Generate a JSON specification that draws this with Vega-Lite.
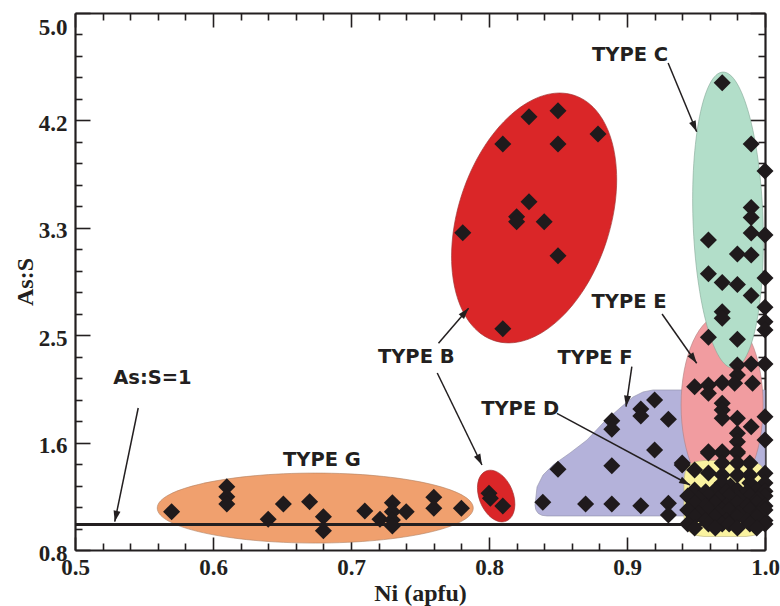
{
  "$schema": "https://vega.github.io/schema/vega-lite/v6.json",
  "width": 690,
  "height": 537,
  "autosize": {"type": "none"},
  "padding": {"left": 75, "top": 13, "right": 15, "bottom": 56},
  "background": "white",
  "config": {
    "view": {"stroke": null},
    "axis": {
      "labelFont": "Liberation Serif", "labelFontWeight": "bold", "labelFontSize": 23, "labelColor": "#231f20",
      "titleFont": "Liberation Serif", "titleFontWeight": "bold", "titleFontSize": 24, "titleColor": "#231f20",
      "tickColor": "#231f20", "domainColor": "#231f20", "grid": false, "tickWidth": 1.6, "domainWidth": 2.2, "zindex": 1
    }
  },
  "datasets": {
    "pts": [
      {"ni":0.570,"ass":1.100},{"ni":0.610,"ass":1.295},{"ni":0.610,"ass":1.217},{"ni":0.610,"ass":1.160},
      {"ni":0.640,"ass":1.040},{"ni":0.651,"ass":1.160},{"ni":0.670,"ass":1.178},{"ni":0.680,"ass":1.060},
      {"ni":0.680,"ass":0.951},{"ni":0.710,"ass":1.105},{"ni":0.721,"ass":1.040},{"ni":0.730,"ass":1.170},
      {"ni":0.730,"ass":1.100},{"ni":0.730,"ass":1.035},{"ni":0.730,"ass":0.988},{"ni":0.740,"ass":1.100},
      {"ni":0.760,"ass":1.212},{"ni":0.760,"ass":1.126},{"ni":0.780,"ass":1.126},
      {"ni":0.800,"ass":1.243},{"ni":0.801,"ass":1.204},{"ni":0.810,"ass":1.144},
      {"ni":0.850,"ass":4.236},{"ni":0.829,"ass":4.189},{"ni":0.879,"ass":4.054},{"ni":0.810,"ass":3.975},
      {"ni":0.850,"ass":3.975},{"ni":0.829,"ass":3.524},{"ni":0.820,"ass":3.407},{"ni":0.820,"ass":3.368},
      {"ni":0.840,"ass":3.368},{"ni":0.781,"ass":3.282},{"ni":0.850,"ass":3.102},{"ni":0.810,"ass":2.531},
      {"ni":0.920,"ass":1.973},{"ni":0.910,"ass":1.903},{"ni":0.910,"ass":1.848},{"ni":0.930,"ass":1.822},
      {"ni":0.889,"ass":1.811},{"ni":0.889,"ass":1.744},{"ni":0.920,"ass":1.582},{"ni":0.889,"ass":1.459},
      {"ni":0.850,"ass":1.431},{"ni":0.940,"ass":1.465},{"ni":0.839,"ass":1.173},{"ni":0.870,"ass":1.160},
      {"ni":0.889,"ass":1.160},{"ni":0.910,"ass":1.146},{"ni":0.930,"ass":1.165},{"ni":0.930,"ass":1.074},
      {"ni":0.969,"ass":4.455},{"ni":0.990,"ass":3.975},{"ni":1.000,"ass":3.764},{"ni":0.990,"ass":3.479},
      {"ni":0.990,"ass":3.400},{"ni":0.990,"ass":3.279},{"ni":1.000,"ass":3.264},{"ni":0.959,"ass":3.225},
      {"ni":0.980,"ass":3.115},{"ni":0.990,"ass":3.107},{"ni":0.959,"ass":2.960},{"ni":0.969,"ass":2.892},
      {"ni":0.980,"ass":2.877},{"ni":1.000,"ass":2.927},{"ni":0.990,"ass":2.790},{"ni":1.000,"ass":2.698},
      {"ni":0.969,"ass":2.664},{"ni":0.969,"ass":2.612},{"ni":1.000,"ass":2.586},{"ni":1.000,"ass":2.521},
      {"ni":0.959,"ass":2.464},{"ni":0.980,"ass":2.448},
      {"ni":0.980,"ass":2.247},{"ni":0.990,"ass":2.255},{"ni":1.000,"ass":2.255},{"ni":0.980,"ass":2.169},
      {"ni":0.991,"ass":2.104},{"ni":0.949,"ass":2.077},{"ni":0.959,"ass":2.090},{"ni":0.969,"ass":2.108},
      {"ni":0.978,"ass":2.104},{"ni":0.959,"ass":2.026},{"ni":0.969,"ass":1.947},{"ni":0.969,"ass":1.895},
      {"ni":0.969,"ass":1.830},{"ni":0.980,"ass":1.830},{"ni":0.990,"ass":1.764},{"ni":1.000,"ass":1.843},
      {"ni":0.980,"ass":1.713},{"ni":0.980,"ass":1.647},{"ni":1.000,"ass":1.660},{"ni":0.959,"ass":1.569},
      {"ni":0.969,"ass":1.569},{"ni":0.980,"ass":1.569},
      {"ni":0.959,"ass":1.559},{"ni":0.969,"ass":1.559},{"ni":0.980,"ass":1.559},
      {"ni":0.940,"ass":1.480},{"ni":0.969,"ass":1.480},{"ni":0.980,"ass":1.480},{"ni":0.989,"ass":1.480},
      {"ni":0.949,"ass":1.426},{"ni":0.959,"ass":1.402},{"ni":0.969,"ass":1.387},{"ni":0.980,"ass":1.387},
      {"ni":0.989,"ass":1.387},{"ni":1.000,"ass":1.400},
      {"ni":0.969,"ass":1.324},{"ni":0.989,"ass":1.324},{"ni":1.000,"ass":1.324},{"ni":0.975,"ass":1.300},
      {"ni":0.949,"ass":1.269},{"ni":0.964,"ass":1.269},{"ni":0.980,"ass":1.269},{"ni":0.994,"ass":1.269},
      {"ni":0.957,"ass":1.255},{"ni":0.972,"ass":1.255},{"ni":0.987,"ass":1.255},{"ni":1.000,"ass":1.260},
      {"ni":0.944,"ass":1.222},{"ni":0.959,"ass":1.222},{"ni":0.974,"ass":1.222},{"ni":0.989,"ass":1.222},{"ni":1.000,"ass":1.222},
      {"ni":0.952,"ass":1.200},{"ni":0.966,"ass":1.200},{"ni":0.981,"ass":1.200},{"ni":0.995,"ass":1.200},
      {"ni":0.949,"ass":1.168},{"ni":0.964,"ass":1.168},{"ni":0.980,"ass":1.168},{"ni":0.994,"ass":1.168},
      {"ni":0.957,"ass":1.145},{"ni":0.972,"ass":1.145},{"ni":0.987,"ass":1.145},{"ni":1.000,"ass":1.145},
      {"ni":0.944,"ass":1.113},{"ni":0.959,"ass":1.113},{"ni":0.969,"ass":1.113},{"ni":0.974,"ass":1.113},{"ni":0.989,"ass":1.113},{"ni":1.000,"ass":1.113},
      {"ni":0.952,"ass":1.085},{"ni":0.966,"ass":1.085},{"ni":0.981,"ass":1.085},{"ni":0.995,"ass":1.085},
      {"ni":0.949,"ass":1.058},{"ni":0.964,"ass":1.058},{"ni":0.980,"ass":1.058},{"ni":0.994,"ass":1.058},
      {"ni":0.957,"ass":1.030},{"ni":0.972,"ass":1.030},{"ni":0.987,"ass":1.030},{"ni":1.000,"ass":1.030},
      {"ni":0.944,"ass":1.003},{"ni":0.959,"ass":1.003},{"ni":0.969,"ass":1.003},{"ni":0.974,"ass":1.003},{"ni":0.989,"ass":1.003},{"ni":1.000,"ass":1.003},
      {"ni":0.949,"ass":0.972},{"ni":0.964,"ass":0.972},{"ni":0.980,"ass":0.972},{"ni":0.994,"ass":0.972}
    ],
    "shapes": [
      {"type":"F","ni":0.9167,"ass":1.559},
      {"type":"E","ni":0.9689,"ass":1.934},
      {"type":"C","ni":0.9732,"ass":3.381},
      {"type":"D","ni":0.9710,"ass":1.203},
      {"type":"G","ni":0.6741,"ass":1.128},
      {"type":"Bs","ni":0.8052,"ass":1.222},
      {"type":"Bb","ni":0.8327,"ass":3.397}
    ],
    "labels": [
      {"text":"TYPE C","ni":0.9022,"ass":4.674},
      {"text":"TYPE B","ni":0.7473,"ass":2.309},
      {"text":"TYPE E","ni":0.9015,"ass":2.740},
      {"text":"TYPE F","ni":0.8769,"ass":2.302},
      {"text":"TYPE D","ni":0.8226,"ass":1.903},
      {"text":"TYPE G","ni":0.6789,"ass":1.504},
      {"text":"As:S=1","ni":0.5561,"ass":2.145}
    ],
    "arrows": [
      {"id":"S","ni":0.5458,"ass":1.9106,"ni2":0.5288,"ass2":1.0213},
      {"id":"Bs","ni":0.7625,"ass":2.1843,"ni2":0.7949,"ass2":1.4648},
      {"id":"Bb","ni":0.7634,"ass":2.4166,"ni2":0.7852,"ass2":2.6904},
      {"id":"C","ni":0.9298,"ass":4.6089,"ni2":0.9505,"ass2":4.0716},
      {"id":"E","ni":0.9254,"ass":2.6458,"ni2":0.9505,"ass2":2.2602},
      {"id":"F","ni":0.9035,"ass":2.2336,"ni2":0.8993,"ass2":1.9208},
      {"id":"D","ni":0.8492,"ass":1.8691,"ni2":0.9457,"ass2":1.3084}
    ]
  },
  "resolve": {"axis": {"x": "independent", "y": "independent"}},
  "layer": [
    {
      "data": {"name": "shapes"},
      "transform": [{"filter": "datum.type === 'F'"}],
      "mark": {"type": "point", "filled": true, "size": 4, "opacity": 1, "fill": "#B4B2DA", "stroke": "#8f8fa8", "strokeWidth": 0.6,
        "shape": "M -115 52 L -113 34 L -107 22 L -97 12 L -80 0 L -63 -13 L -47 -30 L -30 -45 L -17 -56 L -7 -61 L 3 -63 L 115 -63 L 115 63 L -103 63 Q -115 63 -115 52 Z"},
      "encoding": {
        "x": {"field": "ni", "type": "quantitative", "scale": {"domain": [0.5, 1.0], "nice": false, "zero": false},
          "axis": {"orient": "bottom", "values": [0.5, 0.6, 0.7, 0.8, 0.9, 1.0], "format": ".1f", "tickSize": -13, "labelPadding": 19, "labelFlush": false, "labelOverlap": false,
            "title": "Ni (apfu)", "titleY": 43, "titleBaseline": "middle"}},
        "y": {"field": "ass", "type": "quantitative", "scale": {"domain": [0.8, 5.0], "nice": false, "zero": false},
          "axis": {"orient": "left", "values": [0.8, 1.64, 2.48, 3.32, 4.16, 5.0], "labelExpr": "format(datum.value, '.1f')", "tickSize": -15, "labelPadding": 23, "labelFlush": false, "labelOverlap": false,
            "labelOffset": 3, "labelBaseline": {"condition": {"test": "datum.value > 4.9", "value": "top"}, "value": "middle"},
            "title": "As:S", "titleX": -50, "titleBaseline": "middle"}}
      }
    },
    {
      "data": {"name": "shapes"},
      "transform": [{"filter": "datum.type === 'E'"}],
      "mark": {"type": "point", "filled": true, "size": 4, "opacity": 1, "fill": "#F19CA0", "stroke": "#b08080", "strokeWidth": 0.6,
        "shape": "M 0 -90 A 41 90 0 1 0 0 90 A 41 90 0 1 0 0 -90 Z"},
      "encoding": {
        "x": {"field": "ni", "type": "quantitative", "scale": {"domain": [0.5, 1.0], "nice": false, "zero": false},
          "axis": {"orient": "bottom", "values": [0.52,0.54,0.56,0.58,0.62,0.64,0.66,0.68,0.72,0.74,0.76,0.78,0.82,0.84,0.86,0.88,0.92,0.94,0.96,0.98], "tickSize": -7, "labels": false, "domain": false, "title": null}},
        "y": {"field": "ass", "type": "quantitative", "scale": {"domain": [0.8, 5.0], "nice": false, "zero": false},
          "axis": {"orient": "left", "values": [0.968,1.136,1.304,1.472,1.808,1.976,2.144,2.312,2.648,2.816,2.984,3.152,3.488,3.656,3.824,3.992,4.328,4.496,4.664,4.832], "tickSize": -7, "labels": false, "domain": false, "title": null}}
      }
    },
    {
      "data": {"name": "shapes"},
      "transform": [{"filter": "datum.type === 'C'"}],
      "mark": {"type": "point", "filled": true, "size": 4, "opacity": 1, "fill": "#B2DEC9", "stroke": "#86a898", "strokeWidth": 0.6, "angle": 358,
        "shape": "M 0 -148 A 35 148 0 1 0 0 148 A 35 148 0 1 0 0 -148 Z"},
      "encoding": {
        "x": {"field": "ni", "type": "quantitative", "scale": {"domain": [0.5, 1.0], "nice": false, "zero": false},
          "axis": {"orient": "top", "values": [0.5, 0.6, 0.7, 0.8, 0.9, 1.0], "tickSize": -14, "labels": false, "title": null}},
        "y": {"field": "ass", "type": "quantitative", "scale": {"domain": [0.8, 5.0], "nice": false, "zero": false},
          "axis": {"orient": "right", "values": [0.8, 1.64, 2.48, 3.32, 4.16, 5.0], "tickSize": -15, "labels": false, "title": null}}
      }
    },
    {
      "data": {"name": "shapes"},
      "transform": [{"filter": "datum.type === 'D'"}],
      "mark": {"type": "point", "filled": true, "size": 4, "opacity": 1, "fill": "#FAF3A0", "stroke": "#b8b080", "strokeWidth": 0.6,
        "shape": "M -41 -18 Q -41 -38 -21 -38 L 21 -38 Q 41 -38 41 -18 L 41 18 Q 41 38 21 38 L -21 38 Q -41 38 -41 18 Z"},
      "encoding": {
        "x": {"field": "ni", "type": "quantitative", "scale": {"domain": [0.5, 1.0], "nice": false, "zero": false},
          "axis": {"orient": "top", "values": [0.52,0.54,0.56,0.58,0.62,0.64,0.66,0.68,0.72,0.74,0.76,0.78,0.82,0.84,0.86,0.88,0.92,0.94,0.96,0.98], "tickSize": -7, "labels": false, "domain": false, "title": null}},
        "y": {"field": "ass", "type": "quantitative", "scale": {"domain": [0.8, 5.0], "nice": false, "zero": false},
          "axis": {"orient": "right", "values": [0.968,1.136,1.304,1.472,1.808,1.976,2.144,2.312,2.648,2.816,2.984,3.152,3.488,3.656,3.824,3.992,4.328,4.496,4.664,4.832], "tickSize": -7, "labels": false, "domain": false, "title": null}}
      }
    },
    {
      "data": {"name": "shapes"},
      "transform": [{"filter": "datum.type === 'G'"}],
      "mark": {"type": "point", "filled": true, "size": 4, "opacity": 1, "fill": "#F0A06E", "stroke": "#b08060", "strokeWidth": 0.6,
        "shape": "M -158 0 A 158 35 0 1 0 158 0 A 158 35 0 1 0 -158 0 Z"},
      "encoding": {
        "x": {"field": "ni", "type": "quantitative", "scale": {"domain": [0.5, 1.0], "nice": false, "zero": false}, "axis": null},
        "y": {"field": "ass", "type": "quantitative", "scale": {"domain": [0.8, 5.0], "nice": false, "zero": false}, "axis": null}
      }
    },
    {
      "data": {"name": "shapes"},
      "transform": [{"filter": "datum.type === 'Bs'"}],
      "mark": {"type": "point", "filled": true, "size": 4, "opacity": 1, "fill": "#DA2628", "stroke": "#a03030", "strokeWidth": 0.6, "angle": 338,
        "shape": "M 0 -27 A 17 27 0 1 0 0 27 A 17 27 0 1 0 0 -27 Z"},
      "encoding": {
        "x": {"field": "ni", "type": "quantitative", "scale": {"domain": [0.5, 1.0], "nice": false, "zero": false}, "axis": null},
        "y": {"field": "ass", "type": "quantitative", "scale": {"domain": [0.8, 5.0], "nice": false, "zero": false}, "axis": null}
      }
    },
    {
      "data": {"name": "shapes"},
      "transform": [{"filter": "datum.type === 'Bb'"}],
      "mark": {"type": "point", "filled": true, "size": 4, "opacity": 1, "fill": "#DA2628", "stroke": "#a03030", "strokeWidth": 0.6, "angle": 18,
        "shape": "M 0 -129 A 76 129 0 1 0 0 129 A 76 129 0 1 0 0 -129 Z"},
      "encoding": {
        "x": {"field": "ni", "type": "quantitative", "scale": {"domain": [0.5, 1.0], "nice": false, "zero": false}, "axis": null},
        "y": {"field": "ass", "type": "quantitative", "scale": {"domain": [0.8, 5.0], "nice": false, "zero": false}, "axis": null}
      }
    },
    {
      "data": {"name": "shapes"},
      "transform": [{"filter": "datum.type === 'G'"}],
      "mark": {"type": "rule", "strokeWidth": 3, "color": "#231f20"},
      "encoding": {
        "y": {"datum": 1, "type": "quantitative", "scale": {"domain": [0.8, 5.0], "nice": false, "zero": false}, "axis": null}
      }
    },
    {
      "data": {"name": "pts"},
      "mark": {"type": "point", "shape": "diamond", "filled": true, "size": 290, "opacity": 1, "color": "#1f1a1c"},
      "encoding": {
        "x": {"field": "ni", "type": "quantitative", "scale": {"domain": [0.5, 1.0], "nice": false, "zero": false}, "axis": null},
        "y": {"field": "ass", "type": "quantitative", "scale": {"domain": [0.8, 5.0], "nice": false, "zero": false}, "axis": null}
      }
    },
    {
      "data": {"name": "arrows"},
      "mark": {"type": "rule", "strokeWidth": 1.5, "color": "#231f20"},
      "encoding": {
        "x": {"field": "ni", "type": "quantitative", "scale": {"domain": [0.5, 1.0], "nice": false, "zero": false}, "axis": null},
        "y": {"field": "ass", "type": "quantitative", "scale": {"domain": [0.8, 5.0], "nice": false, "zero": false}, "axis": null},
        "x2": {"field": "ni2"},
        "y2": {"field": "ass2"}
      }
    },
    {"data": {"name": "arrows"}, "transform": [{"filter": "datum.id === 'S'"}],
      "mark": {"type": "point", "filled": true, "opacity": 1, "color": "#231f20", "size": 484, "angle": 192, "shape": "M 0 0 L 0.32 1 L -0.32 1 Z"},
      "encoding": {"x": {"field": "ni2", "type": "quantitative", "scale": {"domain": [0.5, 1.0], "nice": false, "zero": false}, "axis": null},
        "y": {"field": "ass2", "type": "quantitative", "scale": {"domain": [0.8, 5.0], "nice": false, "zero": false}, "axis": null}}},
    {"data": {"name": "arrows"}, "transform": [{"filter": "datum.id === 'Bs'"}],
      "mark": {"type": "point", "filled": true, "opacity": 1, "color": "#231f20", "size": 484, "angle": 154, "shape": "M 0 0 L 0.32 1 L -0.32 1 Z"},
      "encoding": {"x": {"field": "ni2", "type": "quantitative", "scale": {"domain": [0.5, 1.0], "nice": false, "zero": false}, "axis": null},
        "y": {"field": "ass2", "type": "quantitative", "scale": {"domain": [0.8, 5.0], "nice": false, "zero": false}, "axis": null}}},
    {"data": {"name": "arrows"}, "transform": [{"filter": "datum.id === 'Bb'"}],
      "mark": {"type": "point", "filled": true, "opacity": 1, "color": "#231f20", "size": 484, "angle": 41, "shape": "M 0 0 L 0.32 1 L -0.32 1 Z"},
      "encoding": {"x": {"field": "ni2", "type": "quantitative", "scale": {"domain": [0.5, 1.0], "nice": false, "zero": false}, "axis": null},
        "y": {"field": "ass2", "type": "quantitative", "scale": {"domain": [0.8, 5.0], "nice": false, "zero": false}, "axis": null}}},
    {"data": {"name": "arrows"}, "transform": [{"filter": "datum.id === 'C'"}],
      "mark": {"type": "point", "filled": true, "opacity": 1, "color": "#231f20", "size": 484, "angle": 157, "shape": "M 0 0 L 0.32 1 L -0.32 1 Z"},
      "encoding": {"x": {"field": "ni2", "type": "quantitative", "scale": {"domain": [0.5, 1.0], "nice": false, "zero": false}, "axis": null},
        "y": {"field": "ass2", "type": "quantitative", "scale": {"domain": [0.8, 5.0], "nice": false, "zero": false}, "axis": null}}},
    {"data": {"name": "arrows"}, "transform": [{"filter": "datum.id === 'E'"}],
      "mark": {"type": "point", "filled": true, "opacity": 1, "color": "#231f20", "size": 484, "angle": 145, "shape": "M 0 0 L 0.32 1 L -0.32 1 Z"},
      "encoding": {"x": {"field": "ni2", "type": "quantitative", "scale": {"domain": [0.5, 1.0], "nice": false, "zero": false}, "axis": null},
        "y": {"field": "ass2", "type": "quantitative", "scale": {"domain": [0.8, 5.0], "nice": false, "zero": false}, "axis": null}}},
    {"data": {"name": "arrows"}, "transform": [{"filter": "datum.id === 'F'"}],
      "mark": {"type": "point", "filled": true, "opacity": 1, "color": "#231f20", "size": 484, "angle": 188, "shape": "M 0 0 L 0.32 1 L -0.32 1 Z"},
      "encoding": {"x": {"field": "ni2", "type": "quantitative", "scale": {"domain": [0.5, 1.0], "nice": false, "zero": false}, "axis": null},
        "y": {"field": "ass2", "type": "quantitative", "scale": {"domain": [0.8, 5.0], "nice": false, "zero": false}, "axis": null}}},
    {"data": {"name": "arrows"}, "transform": [{"filter": "datum.id === 'D'"}],
      "mark": {"type": "point", "filled": true, "opacity": 1, "color": "#231f20", "size": 484, "angle": 118, "shape": "M 0 0 L 0.32 1 L -0.32 1 Z"},
      "encoding": {"x": {"field": "ni2", "type": "quantitative", "scale": {"domain": [0.5, 1.0], "nice": false, "zero": false}, "axis": null},
        "y": {"field": "ass2", "type": "quantitative", "scale": {"domain": [0.8, 5.0], "nice": false, "zero": false}, "axis": null}}},
    {
      "data": {"name": "labels"},
      "mark": {"type": "text", "font": "DejaVu Sans", "fontWeight": "bold", "fontSize": 19.5, "color": "#231f20", "align": "center", "baseline": "middle"},
      "encoding": {
        "x": {"field": "ni", "type": "quantitative", "scale": {"domain": [0.5, 1.0], "nice": false, "zero": false}, "axis": null},
        "y": {"field": "ass", "type": "quantitative", "scale": {"domain": [0.8, 5.0], "nice": false, "zero": false}, "axis": null},
        "text": {"field": "text"}
      }
    }
  ]
}
